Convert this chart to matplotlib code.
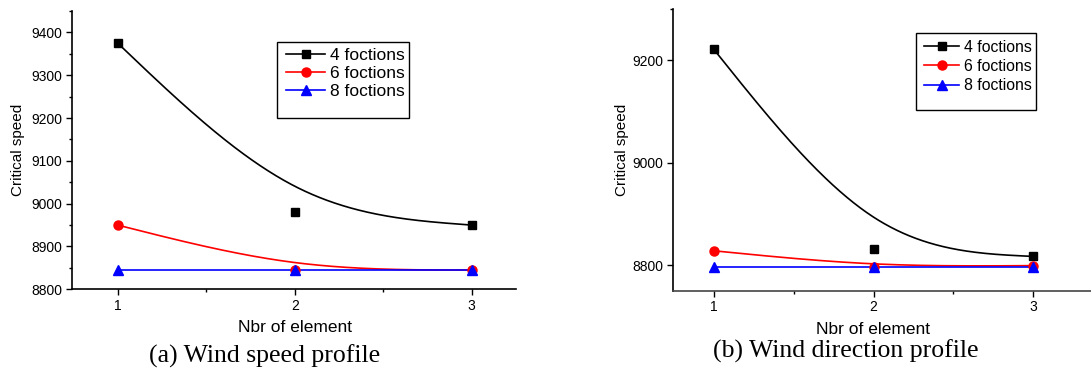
import numpy as np
import matplotlib
matplotlib.use("Agg")
import matplotlib.pyplot as plt
from matplotlib.patches import Rectangle
from matplotlib.ticker import MultipleLocator, FixedLocator

plt.rcParams['font.family'] = ['Liberation Sans', 'DejaVu Sans']

# ---------------- data ----------------
elements = [1, 2, 3]
series_labels = ["4 foctions", "6 foctions", "8 foctions"]

speed_4 = [9375, 8980, 8950]
speed_6 = [8950, 8845, 8845]
speed_8 = [8845, 8845, 8845]

dir_4 = [9222, 8831, 8817]
dir_6 = [8828, 8797, 8799]
dir_8 = [8797, 8797, 8797]

captions = ["(a) Wind speed profile", "(b) Wind direction profile"]
x_label = "Nbr of element"
y_label = "Critical speed"

colors = ["black", "red", "blue"]
markers = ["s", "o", "^"]
msizes = [5.5, 6.5, 7]

W, H = 1091, 371
fig = plt.figure(figsize=(W / 100, H / 100), dpi=100)


def px_axes(left, top, right, bottom):
    return fig.add_axes([left / W, 1 - bottom / H, (right - left) / W, (bottom - top) / H])


def bspline(xs, ys, n=200):
    """Uniform cubic B-spline (Origin style) with reflected end points."""
    xs = np.asarray(xs, float)
    ys = np.asarray(ys, float)
    P = np.column_stack([xs, ys])
    Q = np.vstack([2 * P[0] - P[1], P, 2 * P[-1] - P[-2]])
    out = []
    t = np.linspace(0, 1, n)
    for i in range(len(Q) - 3):
        b0 = (1 - t) ** 3 / 6
        b1 = (3 * t ** 3 - 6 * t ** 2 + 4) / 6
        b2 = (-3 * t ** 3 + 3 * t ** 2 + 3 * t + 1) / 6
        b3 = t ** 3 / 6
        seg = (np.outer(b0, Q[i]) + np.outer(b1, Q[i + 1]) +
               np.outer(b2, Q[i + 2]) + np.outer(b3, Q[i + 3]))
        out.append(seg)
    c = np.vstack(out)
    return c[:, 0], c[:, 1]


def draw_panel(ax, data, spline_flags):
    handles = []
    for ys, col, mk, ms, lab, spl in zip(data, colors, markers, msizes, series_labels, spline_flags):
        if spl:
            cx, cy = bspline(elements, ys)
        else:
            cx, cy = elements, ys
        ax.plot(cx, cy, color=col, lw=1.2, zorder=2)
        ax.plot(elements, ys, linestyle='none', marker=mk, ms=ms, color=col, zorder=3)
        h, = ax.plot([], [], color=col, lw=1.2, marker=mk, ms=ms)
        handles.append(h)
    for s in ['top', 'right']:
        ax.spines[s].set_visible(False)
    for s in ['left', 'bottom']:
        ax.spines[s].set_linewidth(1.2)
    ax.set_xticks(elements)
    ax.xaxis.set_minor_locator(FixedLocator([1.5, 2.5]))
    ax.tick_params(which='major', direction='out', length=4, width=1, labelsize=10, pad=3)
    ax.tick_params(which='minor', direction='out', length=2.5, width=1)
    return handles


# ---------------- panel (a) ----------------
axa = px_axes(72, 11, 516, 289.3)
ha = draw_panel(axa, [speed_4, speed_6, speed_8], [True, True, False])
axa.set_xlim(0.742, 3.25)
axa.set_ylim(8800, 9450)
axa.yaxis.set_major_locator(MultipleLocator(100))
axa.yaxis.set_minor_locator(MultipleLocator(50))

# ---------------- panel (b) ----------------
axb = px_axes(673.3, 9.3, 1091, 290.7)
hb = draw_panel(axb, [dir_4, dir_6, dir_8], [True, True, False])
axb.set_xlim(0.747, 3.361)
axb.set_ylim(8750, 9300)
axb.set_yticks([8800, 9000, 9200])
axb.yaxis.set_minor_locator(FixedLocator([9300]))
axb.spines['bottom'].set_color('#444444')

# ---------------- legends ----------------
def px_legend(handles, box, first_row_top, handle_left, fs, hl_px, gap_px, ls):
    fs_px = fs * 100 / 72
    leg = fig.legend(handles, series_labels, loc='upper left', frameon=False,
                     bbox_to_anchor=(handle_left / W, 1 - first_row_top / H),
                     bbox_transform=fig.transFigure, borderpad=0, borderaxespad=0,
                     handlelength=hl_px / fs_px, handletextpad=gap_px / fs_px,
                     labelspacing=ls, fontsize=fs, handleheight=0.7)
    l, t, r, b = box
    fig.patches.append(Rectangle((l / W, 1 - b / H), (r - l) / W, (b - t) / H,
                                 transform=fig.transFigure, fill=False,
                                 edgecolor='black', lw=1.0))
    return leg

px_legend(ha, (276.7, 41.7, 409, 118.3), 47.8, 286, 12.5, 39, 5, 0.16)
px_legend(hb, (915.7, 32.7, 1035.7, 110), 39.5, 924.3, 11.4, 34.7, 5, 0.27)

# ---------------- axis labels & captions ----------------
def ftext(x, y, s, **kw):
    fig.text(x / W, 1 - y / H, s, **kw)

ftext(18.3, 150, y_label, rotation=90, ha='center', va='center', fontsize=11)
ftext(295, 327, x_label, ha='center', va='center', fontsize=12.5)
ftext(622.3, 150, y_label, rotation=90, ha='center', va='center', fontsize=11)
ftext(873.3, 329, x_label, ha='center', va='center', fontsize=12.5)

serif = ['Liberation Serif', 'DejaVu Serif']
ftext(265, 356, captions[0], ha='center', va='center', fontsize=18.5, family=serif)
ftext(845.5, 351.5, captions[1], ha='center', va='center', fontsize=18.5, family=serif)

fig.savefig("out.png", dpi=100)
